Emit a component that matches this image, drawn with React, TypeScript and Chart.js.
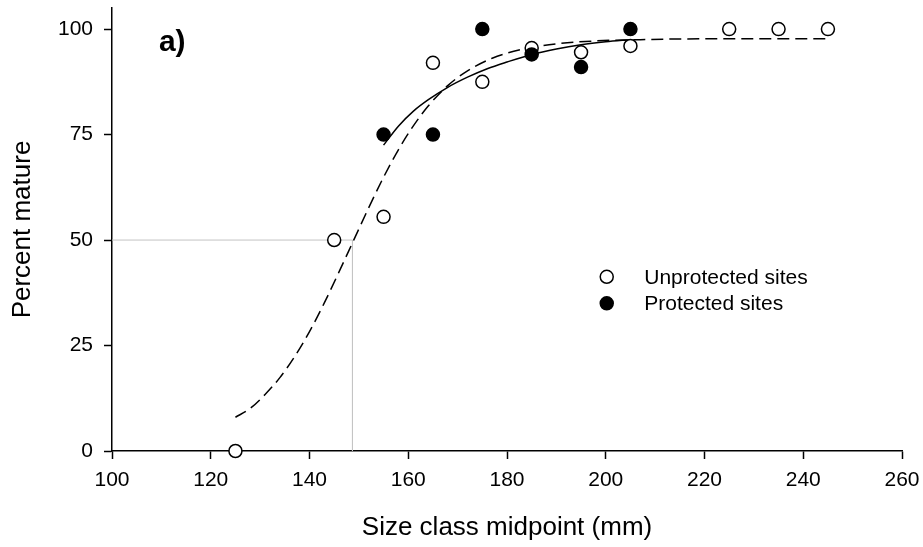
import React, { useEffect, useRef } from "react";
import { Chart, registerables } from "chart.js";

Chart.register(...registerables);

// Observed data
const unprotectedX = [125, 145, 155, 165, 175, 185, 195, 205, 225, 235, 245];
const unprotectedY = [0, 50, 55.5, 92, 87.5, 95.5, 94.5, 96, 100, 100, 100];
const protectedX = [155, 165, 175, 185, 195, 205];
const protectedY = [75, 75, 100, 94, 91, 100];

// Fitted curves
const fitUnprotX = [125, 128, 131, 134, 137, 140, 143, 146, 149, 152, 155, 158, 161, 164, 168, 172, 177, 183, 190, 198, 207, 220, 245];
const fitUnprotY = [8.0, 10.1, 13.4, 17.4, 22.4, 28.3, 35.1, 42.5, 50.1, 57.7, 64.9, 71.4, 77.0, 81.7, 86.6, 90.1, 93.1, 95.2, 96.5, 97.2, 97.5, 97.7, 97.7];
const fitProtX = [155, 158, 161, 164, 168, 172, 176, 180, 185, 190, 195, 200, 205];
const fitProtY = [72.5, 77, 80.5, 83.2, 86.2, 88.6, 90.6, 92.2, 94, 95.3, 96.3, 97, 97.5];

// Size at 50% maturity reference lines
const refLineX = [100, 148.7, 148.7];
const refLineY = [50, 50, 0];

// Axes
const xTicks = [100, 120, 140, 160, 180, 200, 220, 240, 260];
const yTicks = [0, 25, 50, 75, 100];
const xMin = 100, xMax = 260, yMin = 0, yMax = 105;

// Legend
const legendLabels = ["Unprotected sites", "Protected sites"];
const legendAnchorX = 200.2;
const legendAnchorY = [41.3, 35.0];
const panelLabel = "a)";
const panelAnchor = [109.5, 94.7];

const FONT = "'Liberation Sans', Arial, Helvetica, sans-serif";

const pts = (xs: number[], ys: number[]) => xs.map((x, i) => ({ x, y: ys[i] }));

const overlay = {
  id: "overlay",
  afterDatasetsDraw(chart: any) {
    const { ctx, scales } = chart;
    const xs = scales.x, ys = scales.y;
    ctx.save();
    // legend
    const mx = xs.getPixelForValue(legendAnchorX);
    legendLabels.forEach((lab, i) => {
      const my = ys.getPixelForValue(legendAnchorY[i]);
      ctx.beginPath();
      ctx.arc(mx, my, 6.5, 0, Math.PI * 2);
      ctx.lineWidth = 1.5;
      ctx.strokeStyle = "#000";
      ctx.fillStyle = i === 0 ? "#fff" : "#000";
      ctx.fill();
      ctx.stroke();
      ctx.fillStyle = "#000";
      ctx.font = `21px ${FONT}`;
      ctx.textAlign = "left";
      ctx.textBaseline = "middle";
      ctx.fillText(lab, mx + 37.5, my + 1);
    });
    // panel label
    ctx.font = `bold 30px ${FONT}`;
    ctx.textAlign = "left";
    ctx.textBaseline = "alphabetic";
    ctx.fillStyle = "#000";
    ctx.fillText(panelLabel, xs.getPixelForValue(panelAnchor[0]), ys.getPixelForValue(panelAnchor[1]));
    ctx.restore();
  },
};

export default function App() {
  const ref = useRef<HTMLCanvasElement>(null);
  useEffect(() => {
    const canvas = ref.current!;
    const chart = new Chart(canvas, {
      type: "scatter",
      data: {
        datasets: [
          {
            label: "Protected sites",
            data: pts(protectedX, protectedY),
            pointRadius: 6.5,
            pointBackgroundColor: "#000",
            pointBorderColor: "#000",
            pointBorderWidth: 1.5,
            showLine: false,
            clip: false,
            order: 0,
          } as any,
          {
            label: "Unprotected sites",
            data: pts(unprotectedX, unprotectedY),
            pointRadius: 6.5,
            pointBackgroundColor: "#fff",
            pointBorderColor: "#000",
            pointBorderWidth: 1.5,
            showLine: false,
            clip: false,
            order: 1,
          },
          {
            label: "Protected fit",
            data: pts(fitProtX, fitProtY),
            showLine: true,
            pointRadius: 0,
            borderColor: "#000",
            borderWidth: 1.5,
            cubicInterpolationMode: "monotone",
            clip: false,
            order: 2,
          },
          {
            label: "Unprotected fit",
            data: pts(fitUnprotX, fitUnprotY),
            showLine: true,
            pointRadius: 0,
            borderColor: "#000",
            borderWidth: 1.5,
            borderDash: [12, 6],
            cubicInterpolationMode: "monotone",
            clip: false,
            order: 3,
          },
          {
            label: "L50",
            data: pts(refLineX, refLineY),
            showLine: true,
            pointRadius: 0,
            borderColor: "#c4c4c4",
            borderWidth: 1,
            tension: 0,
            order: 4,
          },
        ],
      },
      options: {
        animation: false,
        responsive: false,
        maintainAspectRatio: false,
        devicePixelRatio: 1,
        layout: { padding: { top: 8, right: 21, left: 0, bottom: 0 } },
        plugins: { legend: { display: false }, tooltip: { enabled: false } },
        scales: {
          x: {
            type: "linear",
            min: xMin,
            max: xMax,
            position: "bottom",
            afterBuildTicks: (s: any) => {
              s.ticks = xTicks.map((v) => ({ value: v }));
            },
            afterFit: (s: any) => {
              s.height = 96;
              s.paddingLeft = 0;
              s.paddingRight = 0;
            },
            grid: {
              drawOnChartArea: false,
              drawTicks: true,
              tickLength: 8,
              tickColor: "#000",
              tickWidth: 1.5,
              color: "#000",
            },
            border: { display: true, color: "#000", width: 1.5 },
            ticks: {
              color: "#000",
              font: { family: FONT, size: 21 },
              padding: 9,
              maxRotation: 0,
              autoSkip: false,
            },
            title: {
              display: true,
              text: "Size class midpoint (mm)",
              color: "#000",
              font: { family: FONT, size: 26 },
              padding: { top: 0, bottom: 4 },
            },
          },
          y: {
            type: "linear",
            min: yMin,
            max: yMax,
            position: "left",
            afterBuildTicks: (s: any) => {
              s.ticks = yTicks.map((v) => ({ value: v }));
            },
            afterFit: (s: any) => {
              s.width = 112;
              s.paddingTop = 0;
              s.paddingBottom = 0;
            },
            grid: {
              drawOnChartArea: false,
              drawTicks: true,
              tickLength: 8,
              tickColor: "#000",
              tickWidth: 1.5,
              color: "#000",
            },
            border: { display: true, color: "#000", width: 1.5 },
            ticks: {
              color: "#000",
              font: { family: FONT, size: 21 },
              padding: 11,
              autoSkip: false,
            },
            title: {
              display: true,
              text: "Percent mature",
              color: "#000",
              font: { family: FONT, size: 26 },
              padding: { top: 7, bottom: 0 },
            },
          },
        },
      },
      plugins: [overlay],
    });
    return () => chart.destroy();
  }, []);
  return (
    <canvas
      ref={ref}
      width={923}
      height={547}
      style={{ position: "fixed", left: 0, top: 0, width: 923, height: 547 }}
    />
  );
}
